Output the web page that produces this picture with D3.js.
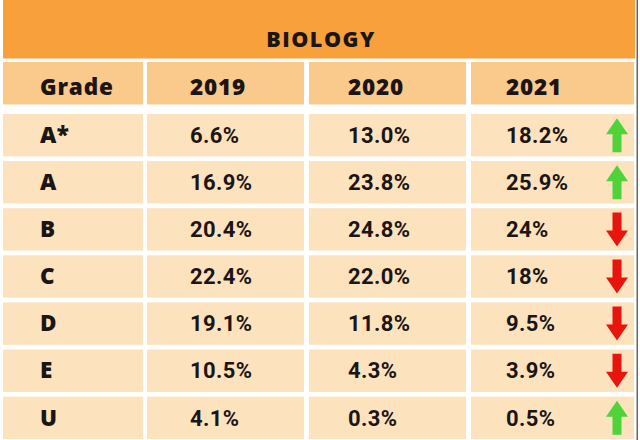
<!DOCTYPE html>
<html>
<head>
<meta charset="utf-8">
<script src="https://cdn.jsdelivr.net/npm/d3@7"></script>
<style>
  html, body { margin: 0; padding: 0; background: #fff; }
</style>
</head>
<body>
<div id="chart"></div>
<script>
// ---- data ----
const title = 'BIOLOGY';
const headers = ['Grade', '2019', '2020', '2021'];
const grades = ['A*', 'A', 'B', 'C', 'D', 'E', 'U'];
const v2019 = [6.6, 16.9, 20.4, 22.4, 19.1, 10.5, 4.1];
const v2020 = [13.0, 23.8, 24.8, 22.0, 11.8, 4.3, 0.3];
const v2021 = [18.2, 25.9, 24, 18, 9.5, 3.9, 0.5];

// 2019/2020 always one decimal, 2021 as published
const fmt1 = d => d.toFixed(1) + '%';
const fmtRaw = d => d + '%';

const rows = grades.map((g, i) => ({
  grade: g,
  cells: [g, fmt1(v2019[i]), fmt1(v2020[i]), fmtRaw(v2021[i])],
  up: v2021[i] > v2020[i]
}));

// ---- layout ----
const W = 640, H = 440;
const svg = d3.select('#chart').append('svg')
  .attr('width', W).attr('height', H);

const colLeft = d3.scaleOrdinal().domain(headers).range([3, 147, 309, 471]);
const colWidth = d3.scaleOrdinal().domain(headers).range([140, 157, 157, 163]);
const textX = d3.scaleOrdinal().domain(headers).range([40, 190, 348, 506]);

const y = d3.scaleBand().domain(grades).range([114, 439]).paddingInner(0.1);

const headFont = "'Open Sans', sans-serif";
const numFont = "Roboto, sans-serif";
const ink = '#1b1515';

// title bar
svg.append('rect')
  .attr('x', 3).attr('y', 0).attr('width', 632).attr('height', 58.5)
  .attr('fill', '#f8a03c');
svg.append('text')
  .attr('x', 321).attr('y', 47)
  .attr('text-anchor', 'middle')
  .attr('font-family', headFont).attr('font-weight', 800)
  .attr('font-size', 21.5).attr('letter-spacing', 1.5)
  .attr('fill', ink)
  .text(title);

// thin dark edge on the right
svg.append('rect')
  .attr('x', 636.5).attr('y', 0).attr('width', 1.5).attr('height', H)
  .attr('fill', '#6b6660');

// header row
const head = svg.append('g');
head.selectAll('rect').data(headers).join('rect')
  .attr('x', d => colLeft(d)).attr('y', 62)
  .attr('width', d => colWidth(d)).attr('height', 42.5)
  .attr('fill', '#f9ca8b');
head.selectAll('text').data(headers).join('text')
  .attr('x', d => textX(d)).attr('y', 95)
  .attr('font-family', headFont).attr('font-weight', 800)
  .attr('font-size', 22.5).attr('letter-spacing', 0.8)
  .attr('fill', ink)
  .text(d => d);

// body rows
const rowG = svg.selectAll('g.row').data(rows).join('g')
  .attr('class', 'row')
  .attr('transform', d => `translate(0,${y(d.grade)})`);

rowG.selectAll('rect').data(d => d.cells.map((c, j) => ({ key: headers[j], text: c })))
  .join('rect')
  .attr('x', d => colLeft(d.key)).attr('y', 0)
  .attr('width', d => colWidth(d.key)).attr('height', y.bandwidth())
  .attr('fill', '#fce3bd');

rowG.selectAll('text').data(d => d.cells.map((c, j) => ({ key: headers[j], text: c })))
  .join('text')
  .attr('x', d => textX(d.key))
  .attr('y', y.bandwidth() / 2 + 7.8)
  .attr('font-family', d => d.key === 'Grade' ? headFont : numFont)
  .attr('font-weight', d => d.key === 'Grade' ? 800 : 700)
  .attr('font-size', d => d.key === 'Grade' ? 22.5 : 22)
  .attr('letter-spacing', d => d.key === 'Grade' ? 0.5 : 0.4)
  .attr('fill', ink)
  .text(d => d.text);

// trend arrows (up = green, down = red)
const arrowPath = 'M0,-17 L11,-1 L4.5,-1 L4.5,17 L-4.5,17 L-4.5,-1 L-11,-1 Z';
rowG.append('path')
  .attr('d', arrowPath)
  .attr('transform', d => `translate(617,${y.bandwidth() / 2}) rotate(${d.up ? 0 : 180})`)
  .attr('fill', d => d.up ? '#4fd23a' : '#e8150f');
</script>
</body>
</html>
